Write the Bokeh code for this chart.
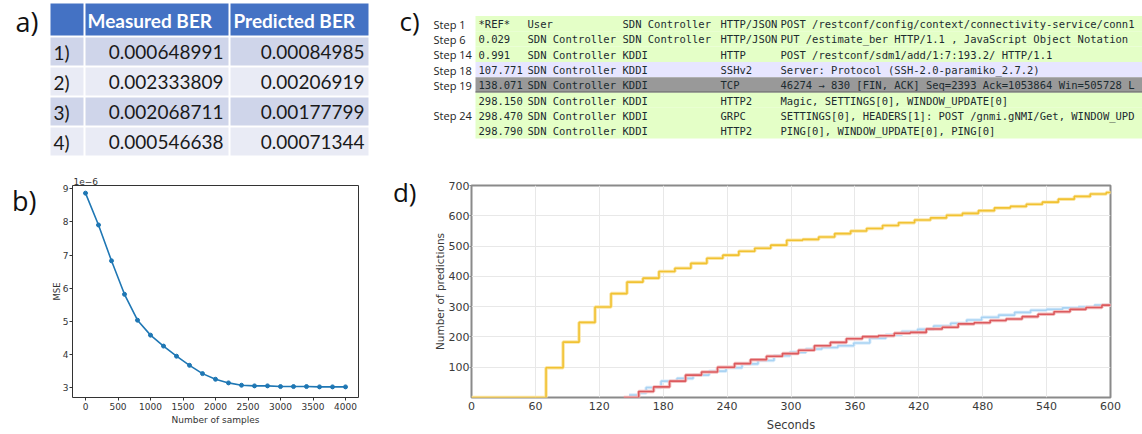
from bokeh.plotting import figure
from bokeh.layouts import row, column
from bokeh.models import Range1d, FixedTicker, LinearAxis, Title
from bokeh.core.properties import value
from bokeh.embed import file_html
from bokeh.resources import INLINE

# ---------------- a) table ----------------
table_headers = ["", "Measured BER", "Predicted BER"]
row_labels = ["1)", "2)", "3)", "4)"]
measured_ber = [0.000648991, 0.002333809, 0.002068711, 0.000546638]
predicted_ber = [0.00084985, 0.00206919, 0.00177799, 0.00071344]

# ---------------- b) MSE vs samples ----------------
samples = [0, 200, 400, 600, 800, 1000, 1200, 1400, 1600, 1800, 2000,
           2200, 2400, 2600, 2800, 3000, 3200, 3400, 3600, 3800, 4000]
mse_1e6 = [8.87, 7.91, 6.83, 5.82, 5.04, 4.59, 4.26, 3.955, 3.68, 3.43, 3.26,
           3.15, 3.08, 3.06, 3.06, 3.04, 3.04, 3.04, 3.03, 3.03, 3.03]
b_xticks = [0, 500, 1000, 1500, 2000, 2500, 3000, 3500, 4000]
b_yticks = [3, 4, 5, 6, 7, 8, 9]

# ---------------- c) packet capture (as visible, right side cut off) ----------------
cap_steps = ["Step 1", "Step 6", "Step 14", "Step 18", "Step 19", "", "Step 24", ""]
cap_times = ["*REF*", "0.029", "0.991", "107.771", "138.071", "298.150", "298.470", "298.790"]
cap_src = ["User", "SDN Controller", "SDN Controller", "SDN Controller",
           "SDN Controller", "SDN Controller", "SDN Controller", "SDN Controller"]
cap_dst = ["SDN Controller", "SDN Controller", "KDDI", "KDDI", "KDDI", "KDDI", "KDDI", "KDDI"]
cap_proto = ["HTTP/JSON", "HTTP/JSON", "HTTP", "SSHv2", "TCP", "HTTP2", "GRPC", "HTTP2"]
cap_info = [
    "POST /restconf/config/context/connectivity-service/conn1",
    "PUT /estimate_ber HTTP/1.1 , JavaScript Object Notation",
    "POST /restconf/sdm1/add/1:7:193.2/ HTTP/1.1",
    "Server: Protocol (SSH-2.0-paramiko_2.7.2)",
    "46274 \u2192 830 [FIN, ACK] Seq=2393 Ack=1053864 Win=505728 L",
    "Magic, SETTINGS[0], WINDOW_UPDATE[0]",
    "SETTINGS[0], HEADERS[1]: POST /gnmi.gNMI/Get, WINDOW_UPD",
    "PING[0], WINDOW_UPDATE[0], PING[0]",
]
cap_colors = ["#E4FFC7", "#E4FFC7", "#E4FFC7", "#E7E6FF", "#999999",
              "#E4FFC7", "#E4FFC7", "#E4FFC7"]

# ---------------- d) predictions over time ----------------
yellow_t = [0, 70, 86, 101, 116, 131, 146, 161, 176, 191, 206, 221, 236, 251, 266,
            281, 296, 311, 326, 341, 356, 371, 386, 401, 416, 431, 446, 461, 476,
            491, 506, 521, 536, 551, 566, 581, 596, 600]
yellow_v = [0, 98, 183, 248, 299, 343, 381, 394, 416, 427, 443, 460, 470, 483, 493,
            503, 519, 522, 530, 541, 550, 558, 568, 577, 586, 593, 602, 608, 617,
            626, 631, 638, 645, 655, 664, 672, 677, 680]
red_t = [143, 157, 171, 186, 201, 216, 231, 247, 262, 277, 292, 307, 322, 337, 352,
         367, 382, 397, 412, 427, 442, 457, 472, 487, 502, 517, 532, 547, 562, 577,
         592, 600]
red_v = [0, 20, 35, 54, 74, 84, 100, 112, 125, 136, 145, 156, 171, 182, 194,
         201, 204, 212, 215, 226, 232, 243, 247, 254, 259, 267, 275, 283, 291, 297,
         305, 308]
blue_t = [148, 157, 164, 178, 193, 208, 223, 239, 254, 269, 284, 299, 314, 329, 344,
          359, 374, 389, 404, 419, 434, 450, 465, 479, 495, 510, 525, 540, 555, 570,
          585, 600]
blue_v = [8, 15, 33, 54, 63, 74, 87, 98, 111, 122, 138, 149, 160, 165, 171,
          180, 196, 207, 218, 225, 236, 245, 256, 265, 272, 281, 288, 291, 296, 299,
          305, 305]
d_xticks = [0, 60, 120, 180, 240, 300, 360, 420, 480, 540, 600]
d_yticks = [100, 200, 300, 400, 500, 600, 700]

TOP_H = 165
BOT_H = 434 - TOP_H
LEFT_W = 384
RIGHT_W = 1142 - LEFT_W


def canvas(w, h, x0, x1, y_top, y_bottom):
    p = figure(width=w, height=h, x_range=Range1d(x0, x1),
               y_range=Range1d(y_bottom, y_top), output_backend="svg",
               toolbar_location=None, x_axis_type=None, y_axis_type=None,
               min_border=0, outline_line_color=None)
    p.background_fill_color = "white"
    p.border_fill_color = "white"
    return p


def panel_tag(p, ytick, text, size, standoff):
    ax = LinearAxis(ticker=FixedTicker(ticks=[ytick]),
                    major_label_overrides={ytick: text})
    ax.axis_line_color = None
    ax.major_tick_line_color = None
    ax.minor_tick_line_color = None
    ax.major_tick_out = 0
    ax.major_label_text_font = "Open Sans"
    ax.major_label_text_font_size = size
    ax.major_label_text_color = "#111111"
    ax.major_label_standoff = standoff
    p.add_layout(ax, "left")


# ===== a) =====
pa = canvas(LEFT_W, TOP_H, 0, LEFT_W, 0, TOP_H)
pa.text(x=[15], y=[21], text=["a)"], text_font=value("Open Sans"),
        text_font_size="27px", text_baseline="middle", text_color="#111111")
col_l = [50, 85, 230]
col_r = [83, 228, 368]
pa.quad(left=col_l, right=col_r, top=[3] * 3, bottom=[35] * 3,
        fill_color="#4472C4", line_color=None)
pa.text(x=[col_l[1] + 2, col_l[2] + 3], y=[20, 20], text=table_headers[1:],
        text_font=value("Lato"), text_font_style="bold", text_font_size="19px",
        text_color="white", text_baseline="middle")
row_tops = [37, 67, 97, 127]
for i, (lab, m, pr) in enumerate(zip(row_labels, measured_ber, predicted_ber)):
    top = row_tops[i]
    fill = "#CFD5EA" if i % 2 == 0 else "#E9EBF5"
    pa.quad(left=col_l, right=col_r, top=[top] * 3, bottom=[top + 28] * 3,
            fill_color=fill, line_color=None)
    yc = top + 14.5
    pa.text(x=[col_l[0] + 3], y=[yc], text=[lab], text_font=value("Lato"),
            text_font_size="19px", text_color="#1a1a1a", text_baseline="middle")
    pa.text(x=[col_r[1] - 5, col_r[2] - 4], y=[yc, yc], text=[str(m), str(pr)],
            text_font=value("Lato"), text_font_size="19px", text_color="#1a1a1a",
            text_baseline="middle", text_align="right")

# ===== c) =====
pc = canvas(RIGHT_W, TOP_H, LEFT_W, 1142, 0, TOP_H)
pc.text(x=[399], y=[20], text=["c)"], text_font=value("Open Sans"),
        text_font_size="26px", text_baseline="middle", text_color="#111111")
row_h = 15.3
tops = [15.5 + row_h * i for i in range(len(cap_times))]
pc.quad(left=[475] * len(tops), right=[1142] * len(tops), top=tops,
        bottom=[t + row_h for t in tops], fill_color=cap_colors, line_color=None)
gi = cap_proto.index("TCP")
pc.segment(x0=[475], x1=[1142], y0=[tops[gi] + row_h - 0.5], y1=[tops[gi] + row_h - 0.5],
           line_color="#666666", line_width=1.2)
centers = [t + row_h / 2 + 0.5 for t in tops]
pc.text(x=[433] * len(centers), y=centers, text=cap_steps, text_font=value("Open Sans"),
        text_font_size="11px", text_color="#222222", text_baseline="middle")
mono = dict(text_font=value("DejaVu Sans Mono"), text_font_size="10.5px",
            text_color="#1c2b30", text_baseline="middle")
for xcol, col in [(478, cap_times), (527, cap_src), (622, cap_dst),
                  (720, cap_proto), (780, cap_info)]:
    pc.text(x=[xcol] * len(centers), y=centers, text=col, **mono)

# ===== b) =====
pb = figure(width=LEFT_W, height=BOT_H, x_range=Range1d(-200, 4200),
            y_range=Range1d(2.71, 9.10), output_backend="svg",
            toolbar_location=None, min_border_left=72, min_border_right=LEFT_W - 358,
            min_border_top=20, min_border_bottom=37)
pb.grid.visible = False
pb.outline_line_color = "#333333"
pb.outline_line_width = 1
pb.line(samples, mse_1e6, line_color="#1f77b4", line_width=1.6)
pb.scatter(samples, mse_1e6, size=4, fill_color="#1f77b4", line_color="#1f77b4")
pb.xaxis.ticker = FixedTicker(ticks=b_xticks)
pb.yaxis.ticker = FixedTicker(ticks=b_yticks)
for ax in pb.axis:
    ax.axis_line_color = None
    ax.major_tick_out = 3
    ax.major_tick_in = 0
    ax.minor_tick_out = 0
    ax.minor_tick_in = 0
    ax.major_tick_line_color = "#333333"
    ax.major_label_text_font = "DejaVu Sans"
    ax.major_label_text_font_size = "9px"
    ax.major_label_text_color = "#333333"
    ax.major_label_standoff = 2
    ax.axis_label_text_font = "DejaVu Sans"
    ax.axis_label_text_font_style = "normal"
    ax.axis_label_text_font_size = "9px"
    ax.axis_label_text_color = "#333333"
    ax.axis_label_standoff = 2
pb.yaxis.major_label_standoff = 1
pb.yaxis.axis_label_standoff = -2
pb.yaxis.axis_label_text_font_size = "8.5px"
pb.xaxis.axis_label = "Number of samples"
pb.yaxis.axis_label = "MSE"
pb.add_layout(Title(text="1e\u22126", align="left", offset=1, standoff=1,
                    text_font="DejaVu Sans", text_font_size="9px",
                    text_font_style="normal", text_color="#333333"), "above")
panel_tag(pb, 8.65, "b)", "27px", 12)

# ===== d) =====
pdd = figure(width=RIGHT_W, height=BOT_H, x_range=Range1d(0, 600), y_range=Range1d(0, 700),
             output_backend="svg", toolbar_location=None, min_border_left=471 - LEFT_W,
             min_border_right=32, min_border_top=20, min_border_bottom=37)
pdd.outline_line_color = "#8a8a8a"
pdd.outline_line_width = 2
pdd.xaxis.ticker = FixedTicker(ticks=d_xticks)
pdd.yaxis.ticker = FixedTicker(ticks=d_yticks)
pdd.grid.grid_line_color = "#e8e8e8"
pdd.grid.grid_line_width = 1
for ax in pdd.axis:
    ax.axis_line_color = None
    ax.major_tick_in = 0
    ax.minor_tick_out = 0
    ax.minor_tick_in = 0
    ax.major_tick_line_color = "#8a8a8a"
    ax.major_label_text_font = "DejaVu Sans"
    ax.major_label_text_font_size = "11px"
    ax.major_label_text_color = "#3a3a3a"
    ax.axis_label_text_font = "DejaVu Sans"
    ax.axis_label_text_font_style = "normal"
    ax.axis_label_text_color = "#3a3a3a"
pdd.xaxis.major_tick_out = 0
pdd.xaxis.major_label_standoff = 4
pdd.xaxis.axis_label_standoff = 5
pdd.xaxis.axis_label_text_font_size = "11.5px"
pdd.yaxis.major_tick_out = 2
pdd.yaxis.major_label_standoff = 0
pdd.yaxis.axis_label_standoff = 0
pdd.yaxis.axis_label_text_font_size = "10.5px"
pdd.xaxis.axis_label = "Seconds"
pdd.yaxis.axis_label = "Number of predictions"

for t, v, halo, core in [(blue_t, blue_v, "#dcedfb", "#a9d3f3"),
                         (red_t, red_v, "#f3c0c0", "#dc5a5e"),
                         (yellow_t, yellow_v, "#fbe6a8", "#f1c232")]:
    pdd.step(t, v, mode="after", line_color=halo, line_width=3.5)
    pdd.step(t, v, mode="after", line_color=core, line_width=1.6)

panel_tag(pdd, 677, "d)", "26px", 14)

layout = column(row(pa, pc), row(pb, pdd))
open("out.html", "w").write(file_html(layout, INLINE))
